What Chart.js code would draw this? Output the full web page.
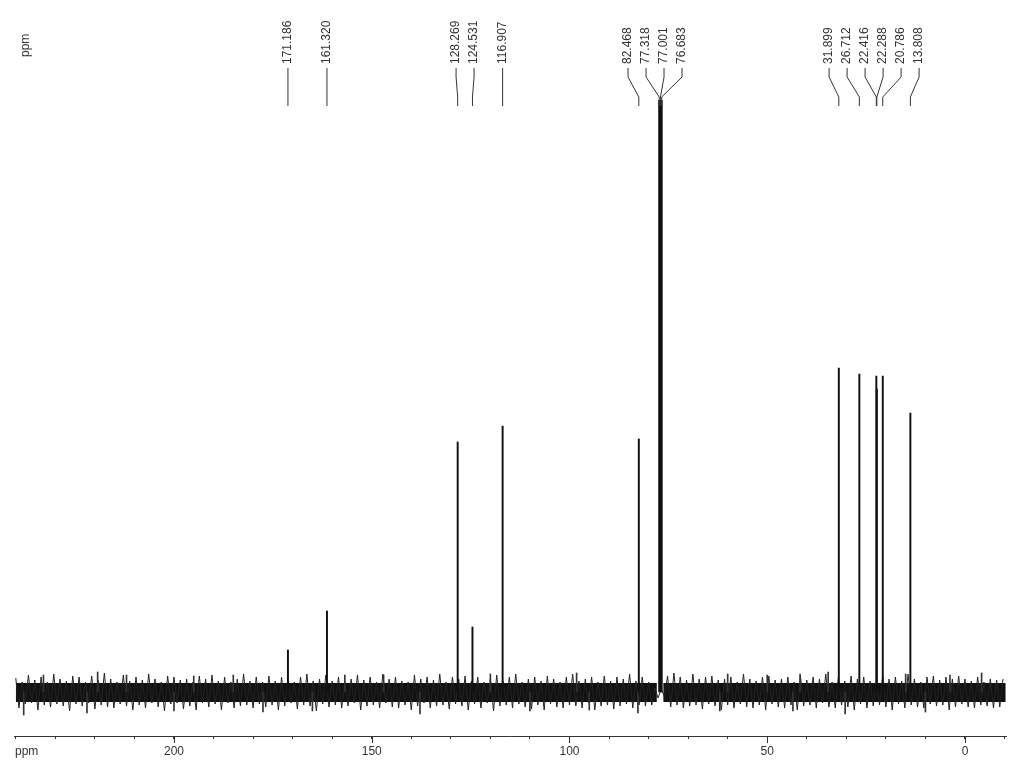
<!DOCTYPE html>
<html><head><meta charset="utf-8">
<script src="https://cdn.jsdelivr.net/npm/chart.js@4.4.0/dist/chart.umd.min.js"></script>
<style>html,body{margin:0;padding:0;background:#fff}</style>
</head><body>
<canvas id="c" width="1024" height="768"></canvas>
<script>
// ---- data (ppm, intensities; intensity 0 = baseline centre) ----
const peakPpm    = [171.186, 161.320, 128.269, 124.531, 116.907, 82.468, 77.318, 77.001, 76.683, 31.899, 26.712, 22.416, 22.288, 20.786, 13.808];
const peakHeight = [42, 81, 250, 65, 266, 253, 650, 660, 650, 324, 318, 316, 303, 316, 279];
const peakLabels = ['171.186','161.320','128.269','124.531','116.907','82.468','77.318','77.001','76.683','31.899','26.712','22.416','22.288','20.786','13.808'];

// dense baseline core (solid part of the noise band)
const noiseCoreTop = 9;
const noiseCoreBottom = -10;
const noiseCoreRange = [240, 77.9, 76.3, -10.3];   // band broken around the solvent triplet

// baseline noise trace, one value every noiseStepPpm starting at noiseStartPpm
const noiseStartPpm = 240;
const noiseStepPpm = 0.8;
const noiseTrace = [
 14,-16,10,-12,17,-11,12,-18,15,-13,10,-15,18,-12,13,-14,11,-19,16,-12,
 15,-14,10,-11,16,-17,12,-13,19,-15,13,-16,10,-12,17,-14,11,-18,15,-13,
 12,-16,18,-11,13,-15,10,-19,16,-12,15,-11,12,-17,13,-14,10,-18,16,-11,
 13,-15,17,-12,11,-18,15,-11,10,-16,13,-14,18,-13,11,-16,15,-12,10,-15,
 16,-13,11,-18,15,-14,13,-11,10,-17,15,-13,18,-14,11,-19,13,-12,17,-15,
 11,-13,15,-16,10,-14,13,-11,17,-18,12,-14,15,-13,10,-16,18,-11,13,-15,
 15,-16,11,-13,10,-18,17,-14,13,-11,15,-16,12,-14,18,-13,10,-17,15,-12,
 13,-14,16,-18,11,-12,15,-16,10,-11,13,-19,17,-14,11,-13,15,-16,18,-12,
 10,-15,13,-17,15,-13,11,-18,16,-12,13,-15,10,-16,15,-13,18,-14,11,-16,
 13,-11,15,-18,10,-14,16,-13,11,-17,15,-14,13,-12,18,-16,11,-13,15,-14,
 10,-13,4,-6,3,-5,16,-15,19,-13,15,-16,12,-14,18,-13,13,-17,15,-12,
 16,-14,12,-18,13,-13,15,-16,10,-12,18,-15,13,-16,11,-13,15,-18,16,-12,
 12,-15,13,-16,15,-13,10,-18,16,-14,12,-13,15,-16,13,-11,18,-15,10,-16,
 15,-13,11,-15,16,-18,13,-12,15,-16,11,-14,10,-13,16,-15,13,-18,15,-12,
 11,-16,18,-13,13,-15,10,-16,15,-12,16,-14,12,-13,15,-18,13,-15,16,-12,
 13,-15,11,-16,15,-13,10,-14,13,-16,12,-15,13
];

const spikePpm   = [238, 233, 222, 219.3, 212, 200, 195, 185, 177.5, 165, 156.8, 147, 137.8, 120, 110, 98.2, 95, 82.7, 62, 60, 50, 43.5, 41.7, 34.6, 30.3, 15, 10, 3.8, -4.2];
const spikeValue = [-23, 17, -21, 20, 17, -19, 16, 17, -20, -19, 17, 17, -22, 18, -19, 19, -18, -21, -19, 18, 17, -19, 18, 20, -22, 18, -20, 17, 19];

const axisMinPpm = -10.37, axisMaxPpm = 240.45;
const tickStepPpm = 10, labelStepPpm = 50;
const yMin = -44, yMax = 592;

const noisePts = noiseTrace.map((v, i) => ({x: noiseStartPpm - i * noiseStepPpm, y: v}));
const corePts = (lvl) => [
  {x: noiseCoreRange[0], y: lvl}, {x: noiseCoreRange[1], y: lvl}, {x: (noiseCoreRange[1] + noiseCoreRange[2]) / 2, y: null},
  {x: noiseCoreRange[2], y: lvl}, {x: noiseCoreRange[3], y: lvl}
];

const INK = '#111', TXT = '#333';
const FONT = '"Liberation Sans", Arial, sans-serif';

const annotPlugin = {
  id: 'annot',
  afterDraw(chart) {
    const ctx = chart.ctx, xs = chart.scales.x, area = chart.chartArea;
    ctx.save();
    ctx.strokeStyle = TXT; ctx.lineWidth = 1;
    for (let v = Math.ceil(axisMinPpm / labelStepPpm) * labelStepPpm; v <= axisMaxPpm; v += labelStepPpm) {
      const p = Math.round(xs.getPixelForValue(v)) + 0.5;
      ctx.beginPath(); ctx.moveTo(p, area.bottom); ctx.lineTo(p, area.bottom + 7); ctx.stroke();
    }
    ctx.fillStyle = TXT;
    ctx.font = '12px ' + FONT;
    ctx.textAlign = 'left'; ctx.textBaseline = 'alphabetic';
    ctx.fillText('ppm', 15, 755);
    ctx.save();
    ctx.translate(26, 57); ctx.rotate(-Math.PI / 2);
    ctx.textBaseline = 'middle'; ctx.fillText('ppm', 0, 0);
    ctx.restore();

    const px = peakPpm.map(p => xs.getPixelForValue(p));
    const S = 18;
    let groups = px.map((p, i) => ({idx: [i], center: p}));
    let changed = true;
    while (changed) {
      changed = false;
      for (let g = 0; g < groups.length - 1; g++) {
        const a = groups[g], b = groups[g + 1];
        const aRight = a.center + (a.idx.length - 1) * S / 2;
        const bLeft = b.center - (b.idx.length - 1) * S / 2;
        if (bLeft - aRight < S) {
          const idx = a.idx.concat(b.idx);
          const center = idx.reduce((s, k) => s + px[k], 0) / idx.length;
          groups.splice(g, 2, {idx, center});
          changed = true; break;
        }
      }
    }
    const lx = [];
    groups.forEach(g => g.idx.forEach((k, j) => { lx[k] = g.center + (j - (g.idx.length - 1) / 2) * S; }));
    ctx.strokeStyle = TXT; ctx.lineWidth = 1;
    peakLabels.forEach((t, i) => {
      const x = lx[i], p = px[i];
      ctx.beginPath();
      ctx.moveTo(x, 68); ctx.lineTo(x, 77); ctx.lineTo(p, 97); ctx.lineTo(p, 106);
      ctx.stroke();
      ctx.save();
      ctx.translate(x, 64); ctx.rotate(-Math.PI / 2);
      ctx.textAlign = 'left'; ctx.textBaseline = 'middle';
      ctx.fillText(t, 0, 0);
      ctx.restore();
    });
    ctx.restore();
  }
};

new Chart(document.getElementById('c'), {
  type: 'bar',
  data: {
    datasets: [
      {type: 'bar', data: peakPpm.map((p, i) => ({x: p, y: [0, peakHeight[i]]})), backgroundColor: INK, barThickness: 1.3, grouped: false, order: 0},
      {type: 'bar', data: spikePpm.map((p, i) => ({x: p, y: [0, spikeValue[i]]})), backgroundColor: '#333', barThickness: 1, grouped: false, order: 1},
      {type: 'line', data: noisePts, borderColor: '#222', borderWidth: 1, borderJoinStyle: 'round', pointRadius: 0, tension: 0, fill: false, order: 2},
      {type: 'line', data: corePts(noiseCoreTop), borderWidth: 0, borderColor: INK, backgroundColor: INK, pointRadius: 0, fill: '+1', spanGaps: false, order: 3},
      {type: 'line', data: corePts(noiseCoreBottom), borderWidth: 0, borderColor: INK, pointRadius: 0, fill: false, spanGaps: false, order: 4}
    ]
  },
  options: {
    responsive: false, animation: false,
    layout: {padding: {left: 14, right: 18, top: 100, bottom: 0}},
    plugins: {legend: {display: false}, tooltip: {enabled: false}},
    scales: {
      x: {
        type: 'linear', reverse: true, offset: false, min: axisMinPpm, max: axisMaxPpm,
        afterFit(s) { s.height = 32; },
        ticks: {stepSize: tickStepPpm, includeBounds: false, autoSkip: false, maxRotation: 0, padding: 5, color: TXT,
          font: {family: FONT, size: 12},
          callback: (v) => (Math.round(v) % labelStepPpm === 0 ? String(Math.round(v)) : '')},
        grid: {drawOnChartArea: false, drawTicks: true, tickLength: 3, color: TXT, offset: false},
        border: {display: true, color: TXT, width: 1}
      },
      y: {display: false, min: yMin, max: yMax}
    }
  },
  plugins: [annotPlugin]
});
</script>
</body></html>
